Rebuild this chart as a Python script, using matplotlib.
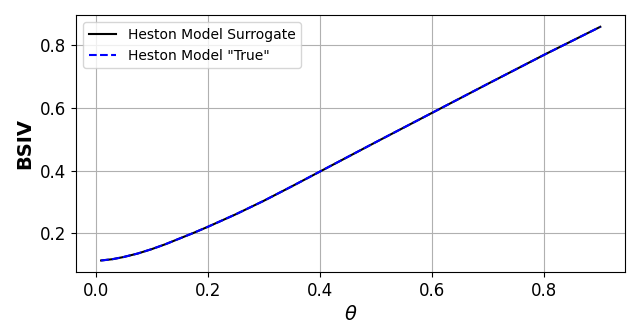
import matplotlib
matplotlib.use("Agg")
from matplotlib import pyplot as plt

# values
theta = [0.01, 0.03, 0.05, 0.075, 0.10, 0.125, 0.15, 0.175, 0.20, 0.25, 0.30, 0.35, 0.40, 0.50, 0.60, 0.70, 0.80, 0.90]
bsiv_surrogate = [0.114, 0.118, 0.125, 0.136, 0.150, 0.166, 0.184, 0.202, 0.221, 0.261, 0.304, 0.350, 0.397, 0.491, 0.584, 0.677, 0.769, 0.858]
bsiv_true = [0.114, 0.118, 0.125, 0.136, 0.150, 0.166, 0.184, 0.202, 0.221, 0.261, 0.304, 0.350, 0.397, 0.491, 0.584, 0.677, 0.769, 0.858]

fig, ax = plt.subplots(figsize=(6.4, 3.36), dpi=100)
ax.plot(theta, bsiv_surrogate, 'k-', label='Heston Model Surrogate')
ax.plot(theta, bsiv_true, 'b--', label='Heston Model "True"')
ax.set_xlabel(r'$\theta$', fontsize=14)
ax.set_ylabel('BSIV', fontsize=14, fontweight='bold')
ax.tick_params(labelsize=12)
ax.grid(True)
ax.legend(loc='upper left', fontsize=10)
fig.subplots_adjust(left=0.119, right=0.977, top=0.955, bottom=0.19)
fig.savefig('out.png')
